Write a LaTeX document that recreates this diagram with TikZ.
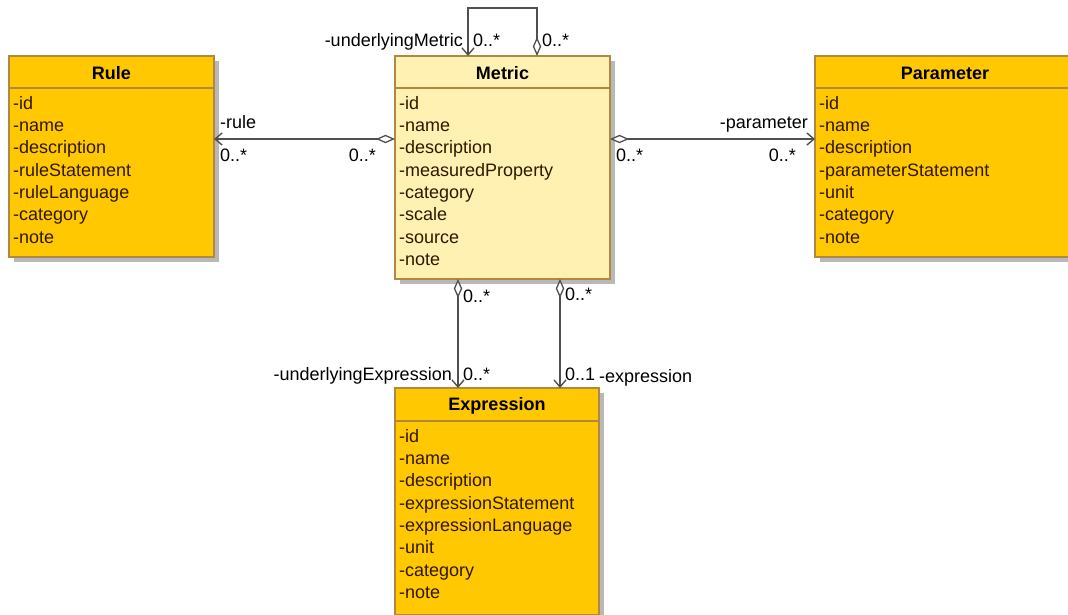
\documentclass[tikz,border=0pt]{standalone}
\usepackage{fontspec}
\setmainfont{Liberation Sans}
\usetikzlibrary{arrows.meta,calc}
\definecolor{classfill}{RGB}{255,200,0}
\definecolor{metricfill}{RGB}{255,241,178}
\definecolor{classedge}{RGB}{176,136,64}
\definecolor{shadowgray}{RGB}{184,184,184}
\definecolor{attrtext}{RGB}{48,24,0}
\definecolor{linkgray}{RGB}{80,80,80}
\tikzset{
  classbox/.style={draw=classedge, line width=1.2pt, fill=classfill, anchor=north west, inner sep=0pt,
    outer sep=0pt},
  shadowbox/.style={fill=shadowgray, draw=none, anchor=north west, inner sep=0pt},
  classname/.style={font=\fontsize{18}{20}\selectfont\bfseries, anchor=center, inner sep=0pt},
  attrs/.style={font=\fontsize{18}{22.3}\selectfont, text=attrtext, anchor=north west, inner sep=0pt,
    align=left},
  lbl/.style={font=\fontsize{18}{20}\selectfont, inner sep=0pt},
  aggassoc/.style={draw=linkgray, line width=1.4pt,
    {Diamond[open,length=19pt,width=8.5pt,line width=1.3pt,fill=white]}-{Straight Barb[length=7pt,width=12pt,line width=1.4pt]}},
}
\begin{document}
\begin{tikzpicture}[x=1pt,y=-1pt]
\useasboundingbox (0,0) rectangle (1068,615);
\clip (0,0) rectangle (1068,615);

% drop shadows
\node[shadowbox, minimum width=205pt, minimum height=201pt] at (14,61) {};
\node[shadowbox, minimum width=215pt, minimum height=223pt] at (400,61) {};
\node[shadowbox, minimum width=260pt, minimum height=201pt] at (820,61) {};
\node[shadowbox, minimum width=204pt, minimum height=225pt] at (400,393) {};

% class boxes
\node[classbox, minimum width=205pt, minimum height=201pt] (rule) at (9,56) {};
\node[classbox, fill=metricfill, minimum width=215pt, minimum height=223pt] (metric) at (395,56) {};
\node[classbox, minimum width=260pt, minimum height=201pt] (param) at (815,56) {};
\node[classbox, minimum width=204pt, minimum height=227pt] (expr) at (395,388) {};

% header separators
\draw[classedge, line width=1.2pt] (9,88) -- (214,88);
\draw[classedge, line width=1.2pt] (395,88) -- (610,88);
\draw[classedge, line width=1.2pt] (815,88) -- (1075,88);
\draw[classedge, line width=1.2pt] (395,421) -- (599,421);

% class names
\node[classname] (rulename) at (111.5,73) {Rule};
\node[classname] (metricname) at (502.5,73) {Metric};
\node[classname] (paramname) at (945,73) {Parameter};
\node[classname] (exprname) at (497,406) {Expression};

% attributes
\node[attrs] (ruleattrs) at (13,96) {-id\\-name\\-description\\-ruleStatement\\-ruleLanguage\\-category\\-note};
\node[attrs] (metricattrs) at (399,96) {-id\\-name\\-description\\-measuredProperty\\-category\\-scale\\-source\\-note};
\node[attrs] (paramattrs) at (819,96) {-id\\-name\\-description\\-parameterStatement\\-unit\\-category\\-note};
\node[attrs] (exprattrs) at (399,429) {-id\\-name\\-description\\-expressionStatement\\-expressionLanguage\\-unit\\-category\\-note};

% connector end points
\coordinate (m-left) at (395,139);
\coordinate (r-right) at (214,139);
\coordinate (m-right) at (610,139);
\coordinate (p-left) at (815,139);
\coordinate (m-top1) at (468,56);
\coordinate (m-top2) at (537,56);
\coordinate (loop1) at (468,8);
\coordinate (loop2) at (537,8);
\coordinate (m-bot1) at (458,279);
\coordinate (m-bot2) at (560,279);
\coordinate (e-top1) at (458,388);
\coordinate (e-top2) at (560,388);

% associations
\draw[aggassoc] (m-left) -- (r-right);
\draw[aggassoc] (m-right) -- (p-left);
\draw[aggassoc] (m-top2) -- (loop2) -- (loop1) -- (m-top1);
\draw[aggassoc] (m-bot1) -- (e-top1);
\draw[aggassoc] (m-bot2) -- (e-top2);

% association labels
\node[lbl, anchor=base west] (rulerole) at (220,129) {-rule};
\node[lbl, anchor=base west] (rulemult) at (220,161) {0..*};
\node[lbl, anchor=base east] (metricmultr) at (376,161) {0..*};
\node[lbl, anchor=base east] (paramrole) at (808,129) {-parameter};
\node[lbl, anchor=base west] (metricmultp) at (616,161) {0..*};
\node[lbl, anchor=base east] (parammult) at (796,161) {0..*};
\node[lbl, anchor=base east] (umrole) at (463,47) {-underlyingMetric};
\node[lbl, anchor=base west] (ummult1) at (473,47) {0..*};
\node[lbl, anchor=base west] (ummult2) at (542,47) {0..*};
\node[lbl, anchor=base west] (uemult1) at (463,302) {0..*};
\node[lbl, anchor=base west] (emult1) at (565,300) {0..*};
\node[lbl, anchor=base east] (uerole) at (452,380) {-underlyingExpression};
\node[lbl, anchor=base west] (uemult2) at (463,380) {0..*};
\node[lbl, anchor=base west] (emult2) at (565,380) {0..1};
\node[lbl, anchor=base west] (erole) at (599,382) {-expression};
\end{tikzpicture}
\end{document}
